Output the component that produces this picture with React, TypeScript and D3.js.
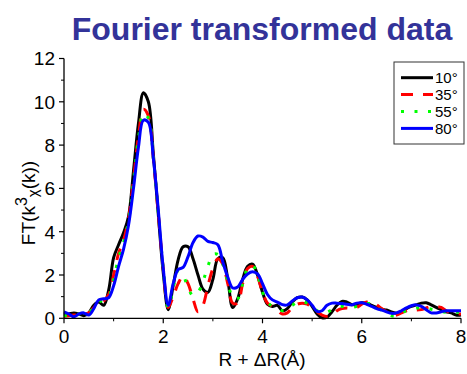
import React from "react";
import * as d3 from "d3";

const rValues: number[] = d3.range(0, 81).map((i) => +(i * 0.1).toFixed(1));

const ft10: number[] = [
  0.15, 0.2, 0.25, 0.2, 0.12, 0.25, 0.6, 0.75, 0.6, 1.3,
  2.8, 3.4, 3.95, 4.7, 6.8, 9.0, 10.42, 10.0, 7.6, 4.8,
  2.1, 0.4, 1.5, 2.7, 3.3, 3.3, 2.75, 2.0, 1.35, 1.2,
  1.8, 2.75, 2.8, 1.8, 0.5, 0.9, 1.8, 2.4, 2.5, 2.0,
  1.2, 0.65, 0.55, 0.6, 0.35, 0.45, 0.75, 0.95, 0.98, 0.85,
  0.55, 0.2, 0.02, 0.05, 0.3, 0.6, 0.78, 0.75, 0.63, 0.65,
  0.72, 0.7, 0.6, 0.5, 0.42, 0.38, 0.3, 0.23, 0.3, 0.45,
  0.55, 0.62, 0.7, 0.72, 0.62, 0.5, 0.4, 0.3, 0.25, 0.15,
  0.15,
];

const ft35: number[] = [
  0.1, 0.12, 0.15, 0.2, 0.2, 0.25, 0.5, 0.7, 0.8, 1.1,
  2.0, 3.0, 3.6, 4.6, 6.4, 8.4, 9.65, 9.35, 7.4, 4.8,
  2.3, 0.5, 1.0, 1.6, 1.95, 1.6, 0.9, 0.3, 0.6, 1.5,
  2.3, 2.75, 2.5, 1.6, 0.7, 0.7, 1.6, 2.3, 2.4, 1.95,
  1.2, 0.7, 0.55, 0.35, 0.2, 0.25, 0.5, 0.65, 0.7, 0.65,
  0.5, 0.3, 0.15, 0.08, 0.15, 0.35, 0.45, 0.48, 0.45, 0.5,
  0.65, 0.75, 0.75, 0.62, 0.45, 0.3, 0.15, 0.15, 0.25, 0.35,
  0.4, 0.38, 0.4, 0.48, 0.55, 0.55, 0.5, 0.35, 0.25, 0.2,
  0.2,
];

const ft55: number[] = [
  0.1, 0.15, 0.15, 0.2, 0.2, 0.25, 0.5, 0.75, 0.85, 1.0,
  1.8, 2.8, 3.5, 4.5, 6.3, 8.3, 9.45, 9.25, 7.4, 4.9,
  2.3, 0.5, 1.4, 2.2, 2.0, 1.4, 1.05, 1.2, 1.7, 2.4,
  2.95, 2.95, 2.5, 1.7, 0.95, 0.9, 1.6, 2.3, 2.45, 2.0,
  1.2, 0.75, 0.55, 0.45, 0.35, 0.4, 0.6, 0.75, 0.78, 0.7,
  0.55, 0.35, 0.25, 0.28, 0.4, 0.5, 0.55, 0.52, 0.5, 0.55,
  0.65, 0.7, 0.65, 0.5, 0.38, 0.25, 0.12, 0.12, 0.25, 0.35,
  0.42, 0.47, 0.5, 0.47, 0.42, 0.38, 0.32, 0.28, 0.25, 0.28,
  0.3,
];

const ft80: number[] = [
  0.3, 0.2, 0.07, 0.2, 0.25, 0.15, 0.45, 0.85, 0.9, 0.95,
  1.5, 2.4, 3.2, 4.3, 6.0, 7.9, 9.15, 9.05, 7.4, 5.0,
  2.3, 0.6, 1.6, 2.25, 2.35, 2.85, 3.5, 3.8, 3.75, 3.55,
  3.5, 3.4, 2.6, 1.9, 1.4, 1.45, 1.8, 2.05, 2.15, 2.05,
  1.6, 1.1, 0.85, 0.75, 0.63, 0.62, 0.8, 0.95, 0.98, 0.85,
  0.6, 0.32, 0.35, 0.6, 0.7, 0.7, 0.68, 0.65, 0.62, 0.7,
  0.72, 0.65, 0.55, 0.45, 0.38, 0.3, 0.23, 0.25, 0.35, 0.48,
  0.58, 0.62, 0.55, 0.4, 0.25, 0.25, 0.3, 0.35, 0.35, 0.35,
  0.35,
];

const seriesNames: string[] = ["10°", "35°", "55°", "80°"];
const seriesData: number[][] = [ft10, ft35, ft55, ft80];
const seriesColors: string[] = ["#000000", "#ff0000", "#00ff00", "#0000ff"];
const seriesDash: (string | undefined)[] = [undefined, "12 10", "3 10.5", undefined];

const xTicks: number[] = [0, 2, 4, 6, 8];
const xMinorTicks: number[] = [1, 3, 5, 7];
const yTicks: number[] = [0, 2, 4, 6, 8, 10, 12];
const yMinorTicks: number[] = [1, 3, 5, 7, 9, 11];

const W = 467;
const H = 374;
const left = 64;
const right = 461;
const top = 58.5;
const bottom = 318.3;

export default function App() {
  const x = d3.scaleLinear().domain([0, 8]).range([left, right]);
  const y = d3.scaleLinear().domain([0, 12]).range([bottom, top]);
  const line = d3
    .line<number>()
    .x((_, i) => x(rValues[i]))
    .y((d) => y(d))
    .curve(d3.curveCatmullRom.alpha(0.5));

  const font = "Arial, 'Liberation Sans', Helvetica, sans-serif";
  const legX = 394;
  const legY = 62;

  return (
    <svg
      width={W}
      height={H}
      style={{ position: "absolute", left: 0, top: 0, background: "#fff" }}
      fontFamily={font}
    >
      <rect x={0} y={0} width={W} height={H} fill="#fff" />
      <text
        x={262}
        y={40}
        textAnchor="middle"
        fontSize={32}
        fontWeight="bold"
        fill="#333399"
      >
        Fourier transformed data
      </text>

      {seriesData.map((s, k) => (
        <path
          key={k}
          d={line(s) || ""}
          fill="none"
          stroke={seriesColors[k]}
          strokeWidth={3}
          strokeDasharray={seriesDash[k]}
          strokeLinejoin="round"
        />
      ))}

      <line x1={left} x2={right} y1={bottom} y2={bottom} stroke="#000" strokeWidth={1.3} />
      <line x1={left} x2={left} y1={bottom} y2={top} stroke="#000" strokeWidth={1.3} />
      {xTicks.map((t) => (
        <g key={"xt" + t}>
          <line x1={x(t)} x2={x(t)} y1={bottom} y2={bottom + 5} stroke="#000" strokeWidth={1.2} />
          <text x={x(t)} y={343} textAnchor="middle" fontSize={19} fill="#000">
            {t}
          </text>
        </g>
      ))}
      {xMinorTicks.map((t) => (
        <line key={"xm" + t} x1={x(t)} x2={x(t)} y1={bottom} y2={bottom + 3} stroke="#000" strokeWidth={1} />
      ))}
      {yTicks.map((t) => (
        <g key={"yt" + t}>
          <line x1={left - 5} x2={left} y1={y(t)} y2={y(t)} stroke="#000" strokeWidth={1.2} />
          <text x={55} y={y(t) + 6.8} textAnchor="end" fontSize={19} fill="#000">
            {t}
          </text>
        </g>
      ))}
      {yMinorTicks.map((t) => (
        <line key={"ym" + t} x1={left - 3} x2={left} y1={y(t)} y2={y(t)} stroke="#000" strokeWidth={1} />
      ))}

      <text x={262} y={366} textAnchor="middle" fontSize={19} fill="#000">
        R + ΔR(Å)
      </text>
      <text transform="translate(35,203) rotate(-90)" textAnchor="middle" fontSize={19} fill="#000">
        FT(k
        <tspan fontSize={16} dy={-8}>3</tspan>
        <tspan fontSize={15} dy={11}>χ</tspan>
        <tspan dy={-3}>(k))</tspan>
      </text>

      <rect x={legX} y={legY} width={70} height={82} fill="#fff" stroke="#333" strokeWidth={1} />
      {seriesNames.map((n, k) => {
        const ry = legY + 15.7 + k * 16.9;
        return (
          <g key={"lg" + k}>
            <line
              x1={legX + 7}
              x2={legX + 39}
              y1={ry}
              y2={ry}
              stroke={seriesColors[k]}
              strokeWidth={3}
              strokeDasharray={seriesDash[k]}
            />
            <text x={legX + 41} y={ry + 5.5} fontSize={15} fill="#000">
              {n}
            </text>
          </g>
        );
      })}
    </svg>
  );
}
